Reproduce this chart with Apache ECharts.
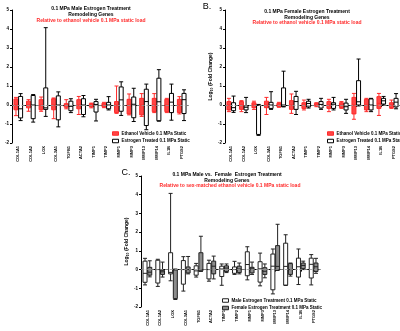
<!DOCTYPE html>
<html>
<head>
<meta charset="utf-8">
<script src="https://cdn.jsdelivr.net/npm/echarts@6/dist/echarts.min.js"></script>
<style>
  html, body { margin: 0; padding: 0; background: #fff; }
  #chart { width: 400px; height: 331px; }
</style>
</head>
<body>
<div id="chart"></div>
<script>
// Remodeling genes (x categories shared by all three panels)
const genes = ['COL1A1', 'COL1A2', 'LOX', 'COL3A1', 'TGFB1', 'ACTA2', 'TIMP1',
               'TIMP2', 'MMP1', 'MMP3', 'MMP13', 'MMP14', 'IL1B', 'PTGS2'];

// Log10 fold change, each entry: [min, Q1, median, Q3, max]
const maleVehicle = [
  [-0.56, -0.25, 0, 0.32, 0.40], [-0.33, -0.15, 0, 0.20, 0.28], [-0.33, -0.25, 0, 0.28, 0.42],
  [-0.72, -0.25, 0, 0.33, 0.37], [-0.20, -0.12, 0, 0.07, 0.28], [-0.50, -0.20, 0, 0.28, 0.45],
  [-0.15, -0.10, 0, 0.07, 0.10], [-0.14, -0.09, 0, 0.09, 0.14], [-0.44, -0.40, 0, 0.18, 1.00],
  [-0.52, -0.47, 0, 0.30, 0.58], [-0.60, -0.52, 0, 0.35, 0.60], [-0.40, -0.35, 0, 0.35, 0.60],
  [-0.40, -0.35, 0, 0.30, 0.35], [-0.47, -0.40, 0, 0.30, 0.44]
];
const maleEstrogen = [
  [-0.82, -0.68, -0.20, 0.45, 0.60], [-0.90, -0.72, 0, 0.50, 0.55], [-0.60, -0.23, -0.15, 0.90, 4.07],
  [-1.15, -0.78, 0, 0.48, 0.69], [-0.40, -0.30, -0.07, 0.20, 0.33], [-0.62, -0.50, 0, 0.33, 0.50],
  [-0.84, -0.37, 0.03, 0.18, 0.30], [-0.26, -0.20, 0, 0.14, 0.44], [-0.55, -0.33, 0.27, 0.95, 1.22],
  [-0.87, -0.67, 0.04, 0.42, 0.88], [-1.30, -1.08, 0.18, 0.83, 1.10], [-0.85, -0.83, 0.17, 1.41, 1.86],
  [-0.80, -0.40, 0.15, 0.61, 1.10], [-0.82, -0.45, 0.28, 0.61, 0.80]
];
const femaleVehicle = [
  [-0.35, -0.26, 0, 0.18, 0.35], [-0.35, -0.23, 0, 0.18, 0.23], [-0.23, -0.14, 0, 0.12, 0.20],
  [-0.50, -0.14, 0, 0.20, 0.40], [-0.12, -0.09, 0, 0.09, 0.14], [-0.44, -0.23, 0, 0.23, 0.58],
  [-0.26, -0.18, 0, 0.12, 0.26], [-0.09, -0.05, 0, 0.09, 0.12], [-0.35, -0.18, 0, 0.18, 0.30],
  [-0.18, -0.14, 0, 0.12, 0.18], [-0.75, -0.47, 0, 0.40, 0.61], [-0.35, -0.26, 0, 0.30, 0.35],
  [-0.55, -0.18, 0.09, 0.44, 0.61], [-0.18, -0.14, 0, 0.12, 0.26]
];
const femaleEstrogen = [
  [-0.39, -0.30, -0.14, 0.12, 0.47], [-0.40, -0.26, -0.12, -0.04, 0.40], [-1.60, -1.55, -0.02, 0, 0.03],
  [-0.23, -0.18, 0, 0.14, 0.70], [-0.10, -0.07, 0, 0.90, 1.78], [-0.50, -0.23, 0.18, 0.45, 0.72],
  [-0.16, -0.10, 0.08, 0.20, 0.30], [-0.23, -0.16, 0.03, 0.18, 0.35], [-0.26, -0.18, 0.04, 0.12, 0.40],
  [-0.44, -0.26, -0.09, 0.10, 0.30], [-0.05, 0.00, 0.17, 1.28, 2.42], [-0.35, -0.26, 0, 0.32, 0.35],
  [0.00, 0.05, 0.22, 0.35, 0.45], [-0.20, -0.10, 0.15, 0.35, 0.60]
];

// Series names / legend entries
const vehicleName = 'Ethanol Vehicle 0.1 MPa Static';
const estrogenName = 'Estrogen Treated 0.1 MPa Static';
const maleName = 'Male Estrogen Treatment 0.1 MPa Static';
const femaleName = 'Female Estrogen Treatment 0.1 MPa Static';

const FONT = '"Liberation Sans", Arial, sans-serif';
const RED = '#ff2a2a';
const RED_FILL = '#ff4545';
const GREY_FILL = '#8c8c8c';

const styles = {
  vehicle: { color: RED_FILL, borderColor: RED, borderWidth: 1 },
  estrogen: { color: '#fff', borderColor: '#000', borderWidth: 1 },
  male: { color: '#fff', borderColor: '#222', borderWidth: 1 },
  female: { color: GREY_FILL, borderColor: '#222', borderWidth: 1 }
};

function yAxisFor(idx, withName) {
  const ax = {
    gridIndex: idx, type: 'value', min: -2, max: 5, interval: 1,
    axisLine: { show: true, lineStyle: { color: '#000', width: 1 } },
    axisTick: { show: true, length: 2, lineStyle: { color: '#000' } },
    axisLabel: { fontSize: 4.5, margin: 3, color: '#000', fontFamily: FONT, fontWeight: 'bold' },
    splitLine: { show: false }
  };
  if (withName) {
    ax.name = '{t|Log}{s|10}{t| (Fold Change)}';
    ax.nameLocation = 'middle';
    ax.nameRotate = 90;
    ax.nameGap = 11;
    ax.nameTextStyle = {
      rich: {
        t: { fontSize: 5, fontFamily: FONT, fontWeight: 'bold', color: '#000' },
        s: { fontSize: 3.5, fontFamily: FONT, fontWeight: 'bold', color: '#000', padding: [3, 0, 0, 0] }
      }
    };
  }
  return ax;
}

function xAxisFor(idx) {
  return {
    gridIndex: idx, type: 'category', data: genes,
    axisLine: { show: true, lineStyle: { color: '#000', width: 1 } },
    axisTick: { show: true, alignWithLabel: true, length: 2, lineStyle: { color: '#000' } },
    axisLabel: { rotate: 90, interval: 0, fontSize: 4, margin: 3, color: '#000',
                 fontFamily: FONT, fontWeight: 'bold' }
  };
}

// dashed reference line at log fold change 0
const zeroLine = {
  silent: true, symbol: 'none', label: { show: false },
  lineStyle: { color: '#999', type: 'dashed', width: 0.8 },
  data: [{ yAxis: 0 }]
};

function box(name, data, idx, style, withZero) {
  const s = {
    type: 'boxplot', name: name, data: data,
    xAxisIndex: idx, yAxisIndex: idx,
    boxWidth: [4, 4],
    itemStyle: style,
    emphasis: { disabled: true },
    z: 3
  };
  if (withZero) s.markLine = zeroLine;
  return s;
}

function legendAt(left, top, items) {
  return {
    orient: 'vertical', left: left, top: top,
    data: items.map(function (it) { return { name: it[0], itemStyle: it[1] }; }),
    icon: 'rect', itemWidth: 6, itemHeight: 3.5, itemGap: 2.5, padding: 0,
    textStyle: { fontSize: 4.5, fontFamily: FONT, fontWeight: 'bold', color: '#000', padding: [0, 0, 0, -2] },
    selectedMode: false
  };
}

function label(x, y, text, size, color, weight) {
  return {
    type: 'text', x: x, y: y, silent: true,
    style: { text: text, fill: color, textAlign: 'center', textVerticalAlign: 'middle',
             font: (weight || 'bold') + ' ' + size + 'px ' + FONT }
  };
}

const chart = echarts.init(document.getElementById('chart'), null, { renderer: 'canvas' });
chart.setOption({
  animation: false,
  backgroundColor: '#fff',
  grid: [
    { left: 12, top: 10, width: 176, height: 133 },
    { left: 225, top: 10, width: 175, height: 133 },
    { left: 141, top: 176, width: 179, height: 131 }
  ],
  xAxis: [xAxisFor(0), xAxisFor(1), xAxisFor(2)],
  yAxis: [yAxisFor(0, false), yAxisFor(1, true), yAxisFor(2, true)],
  legend: [
    legendAt(112, 131, [[vehicleName, styles.vehicle], [estrogenName, styles.estrogen]]),
    legendAt(327, 131, [[vehicleName, styles.vehicle], [estrogenName, styles.estrogen]]),
    legendAt(222, 298, [[maleName, styles.male], [femaleName, styles.female]])
  ],
  series: [
    box(vehicleName, maleVehicle, 0, styles.vehicle, true),
    box(estrogenName, maleEstrogen, 0, styles.estrogen, false),
    box(vehicleName, femaleVehicle, 1, styles.vehicle, true),
    box(estrogenName, femaleEstrogen, 1, styles.estrogen, false),
    box(maleName, maleEstrogen, 2, styles.male, true),
    box(femaleName, femaleEstrogen, 2, styles.female, false)
  ],
  graphic: [
    label(91, 9, '0.1 MPa Male Estrogen Treatment', 5, '#000'),
    label(91, 15, 'Remodeling Genes', 5, '#000'),
    label(91, 20.5, 'Relative to ethanol vehicle 0.1 MPa static load', 5, RED),
    label(207, 7, 'B.', 9, '#000', 'normal'),
    label(307, 12, '0.1 MPa Female Estrogen Treatment', 5, '#000'),
    label(307, 17.5, 'Remodeling Genes', 5, '#000'),
    label(307, 23, 'Relative to ethanol vehicle 0.1 MPa static load', 5, RED),
    label(126, 173, 'C.', 9, '#000', 'normal'),
    label(227, 175, '0.1 MPa Male vs.  Female  Estrogen Treatment', 5, '#000'),
    label(227, 180.5, 'Remodeling Genes', 5, '#000'),
    label(230, 186, 'Relative to sex-matched ethanol vehicle 0.1 MPa static load', 5, RED)
  ]
});
</script>
</body>
</html>
